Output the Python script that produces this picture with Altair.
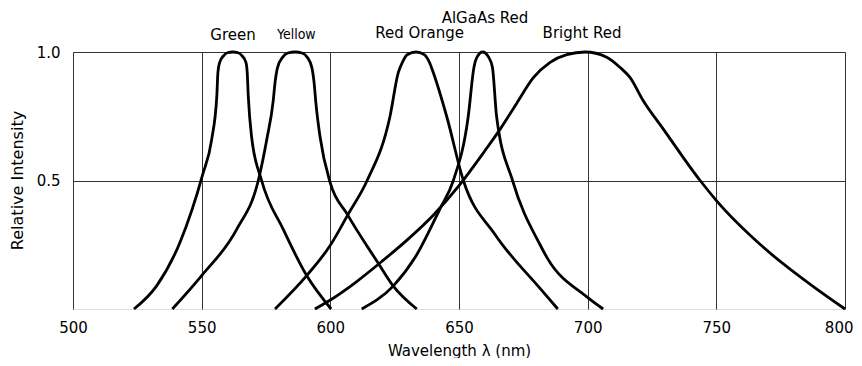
import altair as alt
import pandas as pd

series_names = ["Green", "Yellow", "Red Orange", "AlGaAs Red", "Bright Red"]

green_nm = [523.7, 532.5, 541.6, 550.3, 553.9, 555.9, 556.3, 557.0, 558.5, 560.0, 562.1, 564.2, 565.7, 567.2, 567.7, 568.1, 569.4, 573.3, 581.7, 590.8, 600.3]
green_rel = [0.0, 0.09, 0.26, 0.52, 0.66, 0.83, 0.92, 0.96, 0.985, 0.997, 1.0, 0.997, 0.985, 0.96, 0.92, 0.83, 0.67, 0.5, 0.31, 0.13, 0.0]

yellow_nm = [538.6, 550.0, 563.6, 572.0, 575.3, 577.8, 578.5, 579.5, 581.5, 583.5, 586.3, 589.0, 591.0, 592.8, 593.7, 594.4, 596.0, 600.0, 606.5, 618.5, 624.4, 633.6]
yellow_rel = [0.0, 0.13, 0.31, 0.5, 0.66, 0.81, 0.88, 0.94, 0.98, 0.996, 1.0, 0.996, 0.98, 0.94, 0.88, 0.80, 0.67, 0.49, 0.37, 0.18, 0.09, 0.0]

redorange_nm = [578.5, 590.8, 599.8, 607.0, 614.3, 623.2, 626.4, 628.0, 630.0, 633.3, 636.5, 638.5, 640.0, 645.2, 651.7, 664.0, 681.5, 688.4]
redorange_rel = [0.0, 0.13, 0.245, 0.37, 0.5, 0.75, 0.92, 0.96, 0.99, 1.0, 0.99, 0.96, 0.92, 0.75, 0.5, 0.29, 0.08, 0.0]

algaas_nm = [612.2, 624.5, 632.9, 642.6, 647.8, 653.6, 655.8, 657.0, 659.2, 661.5, 663.0, 664.6, 670.8, 681.5, 684.2, 699.7, 706.0]
algaas_rel = [0.0, 0.09, 0.2, 0.39, 0.5, 0.75, 0.94, 0.98, 1.0, 0.98, 0.94, 0.75, 0.5, 0.25, 0.2, 0.047, 0.0]

bright_nm = [594.0, 600.0, 610.0, 620.0, 630.0, 640.0, 650.0, 660.0, 666.0, 672.4, 678.9, 685.4, 691.9, 699.0, 707.4, 712.6, 716.5, 721.6, 729.4, 743.7, 750.2, 768.3, 787.7, 800.0]
bright_rel = [0.0, 0.035, 0.105, 0.185, 0.27, 0.365, 0.48, 0.615, 0.70, 0.80, 0.90, 0.96, 0.99, 1.0, 0.98, 0.94, 0.90, 0.81, 0.70, 0.5, 0.42, 0.24, 0.087, 0.0]

label_text = ["Green", "Yellow", "Red  Orange", "AlGaAs  Red", "Bright  Red"]
label_nm = [562.2, 586.8, 634.7, 660.1, 697.8]
label_rel = [1.068, 1.068, 1.075, 1.133, 1.075]

x_ticks = [500, 550, 600, 650, 700, 750, 800]
y_ticks = [0.5, 1.0]

all_nm = [green_nm, yellow_nm, redorange_nm, algaas_nm, bright_nm]
all_rel = [green_rel, yellow_rel, redorange_rel, algaas_rel, bright_rel]

rows = []
for name, xs, ys in zip(series_names, all_nm, all_rel):
    for i, (a, b) in enumerate(zip(xs, ys)):
        rows.append({"series": name, "nm": a, "rel": b, "i": i})
df = pd.DataFrame(rows)

lab = pd.DataFrame({"text": label_text, "nm": label_nm, "rel": label_rel})

FONT = "DejaVu Sans"

x_enc = alt.X(
    "nm:Q",
    scale=alt.Scale(domain=[500, 800], nice=False, zero=False),
    axis=alt.Axis(
        values=x_ticks, title="Wavelength  λ  (nm)", grid=True, gridColor="#333",
        gridOpacity=1, gridWidth=1, ticks=False, domain=False, labelFont=FONT,
        labelFontSize=15, labelColor="#000", labelPadding=11, labelFlush=False,
        labelAlign={"expr": "datum.value == 800 ? 'right' : 'center'"},
        labelOffset={"expr": "datum.value == 800 ? 8 : 0"},
        titleFont=FONT, titleFontSize=15, titleFontWeight="normal", titleColor="#000",
        titleY=41, titleBaseline="middle",
    ),
)
y_enc = alt.Y(
    "rel:Q",
    scale=alt.Scale(domain=[0, 1], nice=False),
    axis=alt.Axis(
        values=y_ticks, format=".1f", title="Relative Intensity", grid=True,
        gridColor="#333", gridOpacity=1, gridWidth=1, ticks=False, domain=False,
        labelFont=FONT, labelFontSize=15, labelColor="#000", labelPadding=13,
        titleFont=FONT, titleFontSize=16, titleFontWeight="normal", titleColor="#000",
        titleAngle=270, titleX=-56, titleY=128, titleAlign="center", titleBaseline="middle",
    ),
)

lines = alt.Chart(df).mark_line(
    color="black", strokeWidth=2.8, interpolate="monotone"
).encode(x=x_enc, y=y_enc, detail="series:N", order="i:Q")

labels_main = alt.Chart(lab).transform_filter(
    alt.datum.text != "Yellow"
).mark_text(font=FONT, fontSize=15, color="black", baseline="middle", align="center").encode(
    x="nm:Q", y="rel:Q", text="text:N"
)
labels_yellow = alt.Chart(lab).transform_filter(
    alt.datum.text == "Yellow"
).mark_text(font="DejaVu Sans Condensed", fontSize=14, color="black", baseline="middle", align="center").encode(
    x="nm:Q", y="rel:Q", text="text:N"
)

chart = alt.layer(lines, labels_main, labels_yellow).properties(
    width=772, height=257,
    autosize=alt.AutoSizeParams(type="none"),
    padding={"left": 65, "top": 44, "right": 9, "bottom": 49},
).configure_view(stroke="#555", strokeWidth=1.2).configure(background="white")

chart.save("out.html", embed_options={"renderer": "svg", "actions": False})
